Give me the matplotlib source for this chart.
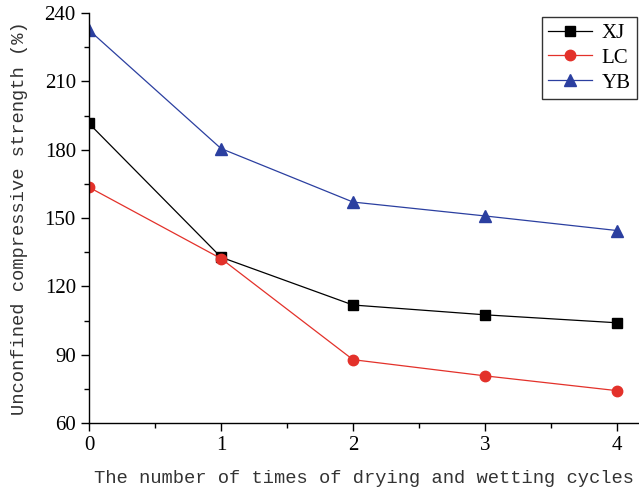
import matplotlib
matplotlib.use("Agg")
import matplotlib.pyplot as plt
from matplotlib.ticker import MultipleLocator

cycles = [0, 1, 2, 3, 4]
xj = [191.5, 132.8, 111.8, 107.5, 104.0]
lc = [163.5, 132.2, 87.8, 80.7, 74.2]
yb = [232.5, 180.5, 157.0, 150.9, 144.5]

fig = plt.figure(figsize=(6.39, 4.94), dpi=100)
ax = fig.add_axes([89/639, 1-423/494, 1-89/639, (423-13)/494])

ax.plot(cycles, xj, color='black', lw=0.9, marker='s', ms=6.8, label='XJ')
ax.plot(cycles, lc, color='#e3312a', lw=0.9, marker='o', ms=7.5, label='LC')
ax.plot(cycles, yb, color='#2b3fa0', lw=0.9, marker='^', ms=8.5, label='YB')

ax.set_xlim(0, 4 + 22/132)
ax.set_ylim(60, 240)
ax.set_yticks([60, 90, 120, 150, 180, 210, 240])
ax.set_xticks([0, 1, 2, 3, 4])
ax.xaxis.set_minor_locator(MultipleLocator(0.5))
ax.yaxis.set_minor_locator(MultipleLocator(15))
for s in ['top', 'right']:
    ax.spines[s].set_visible(False)
for s in ['left', 'bottom']:
    ax.spines[s].set_linewidth(1.0)
ax.tick_params(which='major', direction='out', length=6, width=1)
ax.tick_params(which='minor', direction='out', length=3.5, width=1)
for lab in ax.get_xticklabels() + ax.get_yticklabels():
    lab.set_fontfamily('Liberation Serif')
    lab.set_fontsize(15)

ax.set_xlabel('The number of times of drying and wetting cycles',
              family='Liberation Mono', fontsize=13.5, color='#333333', labelpad=11)
ax.set_ylabel('Unconfined compressive strength (%)',
              family='Liberation Mono', fontsize=13.5, color='#333333', labelpad=12)

leg = ax.legend(loc='upper right', bbox_to_anchor=(0.996, 0.99), borderaxespad=0,
                frameon=True, fancybox=False,
                edgecolor='black', prop={'family': 'Liberation Serif', 'size': 15},
                handlelength=2.1, borderpad=0.3, labelspacing=0.25, handletextpad=0.45)
leg.get_frame().set_linewidth(1.0)

fig.savefig('out.png', dpi=100)
